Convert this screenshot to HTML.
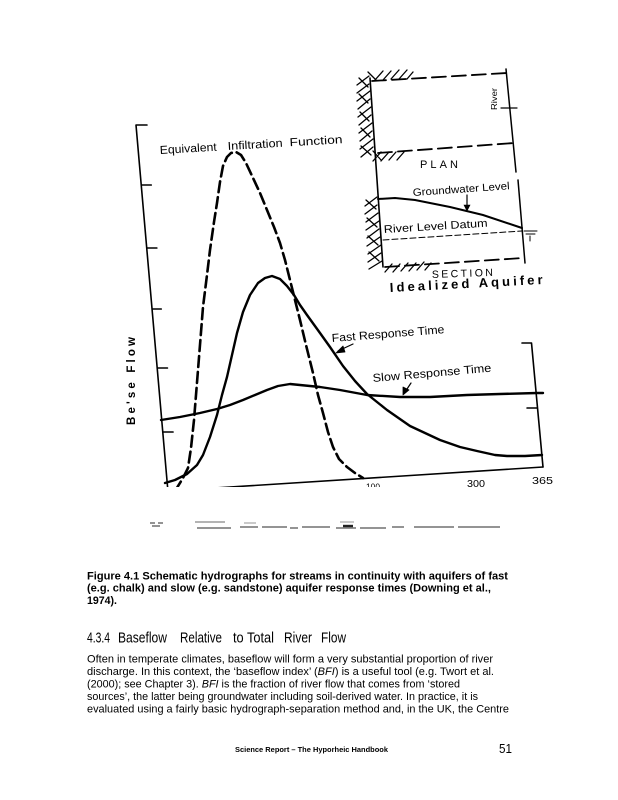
<!DOCTYPE html>
<html><head><meta charset="utf-8"><style>
html,body{margin:0;padding:0;background:#fff}
svg{display:block}
text{font-family:"Liberation Sans",Arial,sans-serif;fill:#000}
</style></head><body>
<svg width="618" height="800" viewBox="0 0 618 800" xmlns="http://www.w3.org/2000/svg">
<rect width="618" height="800" fill="#fff"/>
<defs><clipPath id="c"><rect x="0" y="0" width="618" height="487"/></clipPath></defs>

<g clip-path="url(#c)" fill="none" stroke="#000" stroke-linecap="round" stroke-linejoin="round">
  <path d="M147,125 H136 L168,492" stroke-width="1.6"/>
  <path d="M141.3,185 h10 M146.9,248 h10 M152.3,309 h9 M157.5,368 h10 M163.1,432 h10" stroke-width="1.5"/>
  <path d="M168,491 L543,467" stroke-width="1.6"/>
  <path d="M522,343 H531.5 L543,467" stroke-width="1.6"/>
  <path d="M527,408 h10" stroke-width="1.5"/>

  <path d="M175,491 L183,478 L188,468 L191,448 L194,420 L198,370 L203,307 L207,275 L210,250 L214,222 L217,203 L220,182 L223,166 L227,157 L231,153 L236,152 L241,155 L246,163 L253,178 L260,193 L267,210 L274,227 L280,243 L285,260 L290,280 L295,300 L300,320 L306,345 L313,373 L318,395 L323,413 L328,432 L333,447 L339,459 L347,467 L355,473 L363,478" stroke-width="2.6" stroke-dasharray="11 5"/>

  <path d="M165,483 L175,480 L187,474 L197,465 L203,455 L210,437 L217,415 L222,395 L227,377 L232,355 L237,333 L243,312 L250,295 L258,283 L265,278 L272,276 L280,279 L287,286 L294,295 L300,305 L307,315 L320,333 L330,347 L343,366 L355,381 L367,394 L387,410 L410,426 L440,440 L460,447 L477,451 L495,455 L507,456 L525,456 L542,455" stroke-width="2.4"/>

  <path d="M161,420 L180,417 L200,413 L217,409 L230,405 L243,400 L255,395 L267,390 L278,386 L290,384 L300,385 L320,387 L340,390 L367,395 L400,397 L430,397 L467,395 L500,394 L537,393 L543,393" stroke-width="2.4"/>

  <path d="M353,344 L338,351" stroke-width="1.2"/>
  <path d="M336,353 L343,346 L345,352 Z" fill="#000" stroke-width="0.8"/>
  <path d="M411,383 L405,392" stroke-width="1.2"/>
  <path d="M403,395 L403,387 L409,390 Z" fill="#000" stroke-width="0.8"/>
</g>

<g transform="rotate(-3.4 160 154)" font-size="11.5">
<text x="160" y="154" textLength="57" lengthAdjust="spacingAndGlyphs">Equivalent</text>
<text x="228" y="154" textLength="55" lengthAdjust="spacingAndGlyphs">Infiltration</text>
<text x="290" y="154" textLength="53" lengthAdjust="spacingAndGlyphs">Function</text>
</g>
<text x="332" y="342" font-size="11.5" textLength="113" lengthAdjust="spacingAndGlyphs" transform="rotate(-4.5 332 342)">Fast  Response Time</text>
<text x="373" y="382" font-size="11.5" textLength="119" lengthAdjust="spacingAndGlyphs" transform="rotate(-5 373 382)">Slow Response  Time</text>
<text x="135" y="425" font-size="11.5" font-weight="bold" textLength="88" lengthAdjust="spacing" transform="rotate(-90 135 425)">Be'se  Flow</text>
<g clip-path="url(#c)">
<text x="467" y="487" font-size="10" textLength="18" lengthAdjust="spacingAndGlyphs">300</text>
<text x="366" y="490" font-size="9" fill="#888" textLength="14" lengthAdjust="spacingAndGlyphs">100</text>
</g>
<text x="532" y="484" font-size="10" textLength="21" lengthAdjust="spacingAndGlyphs">365</text>

<g fill="none" stroke="#000" stroke-linecap="round">
  <path d="M370,78 L383,267" stroke-width="1.6"/>
  <path d="M372,81 L507,73" stroke-width="1.8" stroke-dasharray="14 6"/>
  <path d="M506,69 L516,172" stroke-width="1.5"/>
  <path d="M501,108 h16" stroke-width="1.2"/>
  <path d="M378,153 L514,143" stroke-width="1.8" stroke-dasharray="14 6"/>
  <path d="M518,180 L525,263" stroke-width="1.5"/>
  <path d="M378,199 L395,198 L415,200 L450,207 L483,215 L522,228" stroke-width="2"/>
  <path d="M467,195 V206" stroke-width="1.2"/>
  <path d="M464,205 L470,205 L467,211 Z" fill="#000" stroke-width="0.6"/>
  <path d="M383,240 L522,231" stroke-width="1" stroke-dasharray="6 3"/>
  <path d="M524,231 h13 M526,234 h9 M530,236 v5" stroke-width="1"/>
  <path d="M385,267 L523,258" stroke-width="1.8" stroke-dasharray="14 6"/>
  <g stroke-width="1.3">
    <path d="M357,85 L369,76 M357,93 L369,84 M357,101 L370,91 M358,109 L370,99 M358,117 L371,107 M359,125 L371,115 M359,133 L372,123 M360,141 L372,131 M360,149 L373,139 M361,157 L373,147"/>
    <path d="M359,78 L368,87 M359,94 L368,103 M360,112 L369,121 M361,128 L370,137 M361,146 L371,155"/>
    <path d="M375,80 L383,71 M383,80 L391,71 M391,79 L399,70 M399,79 L407,70 M407,79 L413,72 M368,72 L376,80"/>
    <path d="M373,161 L381,152 M381,161 L389,152 M389,160 L396,152 M397,160 L404,152 M373,151 L381,160"/>
    <path d="M365,206 L377,197 M365,214 L377,205 M366,222 L378,213 M366,230 L379,221 M367,238 L379,229 M367,246 L380,237 M368,254 L381,245 M368,262 L381,253 M369,269 L382,261"/>
    <path d="M366,200 L376,209 M367,218 L377,227 M368,236 L378,245 M369,252 L379,261"/>
    <path d="M385,272 L392,264 M393,272 L400,264 M401,271 L408,263 M409,271 L416,263 M417,270 L424,262 M425,270 L431,263"/>
  </g>
</g>
<text x="497" y="110" font-size="8" textLength="22" lengthAdjust="spacingAndGlyphs" transform="rotate(-90 497 110)">River</text>
<text x="420" y="168" font-size="11" textLength="38" lengthAdjust="spacing">PLAN</text>
<text x="413" y="196" font-size="10.5" textLength="97" lengthAdjust="spacingAndGlyphs" transform="rotate(-4 413 196)">Groundwater Level</text>
<text x="384" y="233" font-size="11" textLength="104" lengthAdjust="spacingAndGlyphs" transform="rotate(-3.5 384 233)">River Level Datum</text>
<text x="432" y="278" font-size="10.5" textLength="61" lengthAdjust="spacing" transform="rotate(-2 432 278)">SECTION</text>
<text x="390" y="292" font-size="13" font-weight="bold" textLength="153" lengthAdjust="spacing" transform="rotate(-3 390 292)">Idealized Aquifer</text>

<g stroke="#555" stroke-width="1.2" fill="none">
  <path d="M150,523 h5 M158,523 h5 M152,526 h8"/>
  <path d="M195,522 h30" stroke="#888"/>
  <path d="M197,528 h34 M240,527 h18 M262,527 h25 M290,528 h8 M302,527 h28 M336,528 h20 M360,528 h26 M392,527 h12 M414,527 h40 M458,527 h42"/>
  <path d="M244,523 h12 M340,522 h14" stroke="#aaa"/>
  <path d="M343,526 h10" stroke-width="2.4" stroke="#222"/>
</g>

<g font-weight="bold" font-size="10.7">
<text x="87" y="579.3" textLength="421" lengthAdjust="spacingAndGlyphs">Figure 4.1 Schematic hydrographs for streams in continuity with aquifers of fast</text>
<text x="87" y="591.7" textLength="404" lengthAdjust="spacingAndGlyphs">(e.g. chalk) and slow (e.g. sandstone) aquifer response times (Downing et al.,</text>
<text x="87" y="604" textLength="30" lengthAdjust="spacingAndGlyphs">1974).</text>
</g>

<g font-size="14.5">
<text x="87" y="642.3" textLength="23" lengthAdjust="spacingAndGlyphs">4.3.4</text>
<text x="118" y="642.3" textLength="49" lengthAdjust="spacingAndGlyphs">Baseflow</text>
<text x="180" y="642.3" textLength="42" lengthAdjust="spacingAndGlyphs">Relative</text>
<text x="233" y="642.3" textLength="41" lengthAdjust="spacingAndGlyphs">to Total</text>
<text x="284" y="642.3" textLength="28" lengthAdjust="spacingAndGlyphs">River</text>
<text x="321" y="642.3" textLength="25" lengthAdjust="spacingAndGlyphs">Flow</text>
</g>

<g font-size="10.6">
<text x="87" y="662.3" textLength="406" lengthAdjust="spacingAndGlyphs">Often in temperate climates, baseflow will form a very substantial proportion of river</text>
<text x="87" y="675" textLength="407" lengthAdjust="spacingAndGlyphs">discharge. In this context, the ‘baseflow index’ (<tspan font-style="italic">BFI</tspan>) is a useful tool (e.g. Twort et al.</text>
<text x="87" y="687.3" textLength="373" lengthAdjust="spacingAndGlyphs">(2000); see Chapter 3). <tspan font-style="italic">BFI</tspan> is the fraction of river flow that comes from ‘stored</text>
<text x="87" y="700" textLength="391" lengthAdjust="spacingAndGlyphs">sources’, the latter being groundwater including soil-derived water. In practice, it is</text>
<text x="87" y="712.3" textLength="422" lengthAdjust="spacingAndGlyphs">evaluated using a fairly basic hydrograph-separation method and, in the UK, the Centre</text>
</g>

<text x="235" y="752" font-size="7.5" font-weight="bold" textLength="153" lengthAdjust="spacingAndGlyphs">Science  Report  – The Hyporheic Handbook</text>
<text x="499" y="753" font-size="13" textLength="13" lengthAdjust="spacingAndGlyphs">51</text>
</svg>
</body></html>
